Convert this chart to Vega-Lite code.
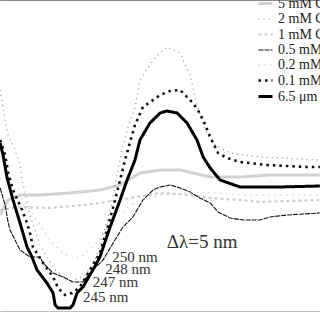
{
  "$schema": "https://vega.github.io/schema/vega-lite/v6.json",
  "width": 320,
  "height": 312,
  "autosize": "none",
  "padding": 0,
  "background": "white",
  "config": {"view": {"stroke": null}, "font": "Liberation Serif"},
  "datasets": {
    "spectra": [
      {"s": "5 mM C", "nm": 223.3, "v": 97}, {"s": "5 mM C", "nm": 226.0, "v": 112}, {"s": "5 mM C", "nm": 230.1, "v": 117}, {"s": "5 mM C", "nm": 236.9, "v": 117}, {"s": "5 mM C", "nm": 247.2, "v": 119}, {"s": "5 mM C", "nm": 257.4, "v": 122}, {"s": "5 mM C", "nm": 264.3, "v": 127}, {"s": "5 mM C", "nm": 271.1, "v": 139}, {"s": "5 mM C", "nm": 278.0, "v": 142}, {"s": "5 mM C", "nm": 284.8, "v": 142}, {"s": "5 mM C", "nm": 295.1, "v": 135}, {"s": "5 mM C", "nm": 305.3, "v": 135}, {"s": "5 mM C", "nm": 315.6, "v": 137}, {"s": "5 mM C", "nm": 332.6, "v": 137},

      {"s": "2 mM C", "nm": 223.3, "v": 222}, {"s": "2 mM C", "nm": 225.0, "v": 192}, {"s": "2 mM C", "nm": 226.0, "v": 177}, {"s": "2 mM C", "nm": 228.4, "v": 162}, {"s": "2 mM C", "nm": 230.1, "v": 147}, {"s": "2 mM C", "nm": 230.8, "v": 132}, {"s": "2 mM C", "nm": 233.5, "v": 97}, {"s": "2 mM C", "nm": 236.9, "v": 67}, {"s": "2 mM C", "nm": 242.1, "v": 42}, {"s": "2 mM C", "nm": 247.2, "v": 30}, {"s": "2 mM C", "nm": 252.3, "v": 37}, {"s": "2 mM C", "nm": 255.7, "v": 52}, {"s": "2 mM C", "nm": 258.5, "v": 77}, {"s": "2 mM C", "nm": 260.9, "v": 102}, {"s": "2 mM C", "nm": 263.6, "v": 142}, {"s": "2 mM C", "nm": 265.0, "v": 162}, {"s": "2 mM C", "nm": 267.0, "v": 185}, {"s": "2 mM C", "nm": 269.4, "v": 204}, {"s": "2 mM C", "nm": 271.1, "v": 232}, {"s": "2 mM C", "nm": 273.8, "v": 244}, {"s": "2 mM C", "nm": 276.2, "v": 254}, {"s": "2 mM C", "nm": 280.3, "v": 265}, {"s": "2 mM C", "nm": 284.8, "v": 259}, {"s": "2 mM C", "nm": 288.2, "v": 237}, {"s": "2 mM C", "nm": 290.6, "v": 207}, {"s": "2 mM C", "nm": 293.3, "v": 182}, {"s": "2 mM C", "nm": 296.8, "v": 167}, {"s": "2 mM C", "nm": 301.9, "v": 159}, {"s": "2 mM C", "nm": 312.1, "v": 155}, {"s": "2 mM C", "nm": 332.6, "v": 152},

      {"s": "1 mM C", "nm": 223.3, "v": 102}, {"s": "1 mM C", "nm": 230.1, "v": 105}, {"s": "1 mM C", "nm": 240.3, "v": 104}, {"s": "1 mM C", "nm": 251.6, "v": 107}, {"s": "1 mM C", "nm": 257.4, "v": 109}, {"s": "1 mM C", "nm": 267.7, "v": 114}, {"s": "1 mM C", "nm": 278.0, "v": 119}, {"s": "1 mM C", "nm": 288.2, "v": 117}, {"s": "1 mM C", "nm": 295.1, "v": 114}, {"s": "1 mM C", "nm": 305.3, "v": 112}, {"s": "1 mM C", "nm": 312.1, "v": 110}, {"s": "1 mM C", "nm": 332.6, "v": 112},

      {"s": "0.5 mM", "nm": 223.3, "v": 124}, {"s": "0.5 mM", "nm": 224.0, "v": 117}, {"s": "0.5 mM", "nm": 225.0, "v": 107}, {"s": "0.5 mM", "nm": 226.0, "v": 90}, {"s": "0.5 mM", "nm": 226.7, "v": 82}, {"s": "0.5 mM", "nm": 230.1, "v": 62}, {"s": "0.5 mM", "nm": 233.5, "v": 55}, {"s": "0.5 mM", "nm": 236.9, "v": 55}, {"s": "0.5 mM", "nm": 238.0, "v": 49}, {"s": "0.5 mM", "nm": 241.4, "v": 39}, {"s": "0.5 mM", "nm": 244.8, "v": 35}, {"s": "0.5 mM", "nm": 248.2, "v": 30}, {"s": "0.5 mM", "nm": 251.6, "v": 30}, {"s": "0.5 mM", "nm": 255.0, "v": 42}, {"s": "0.5 mM", "nm": 258.5, "v": 52}, {"s": "0.5 mM", "nm": 261.9, "v": 69}, {"s": "0.5 mM", "nm": 265.3, "v": 85}, {"s": "0.5 mM", "nm": 268.7, "v": 95}, {"s": "0.5 mM", "nm": 272.1, "v": 112}, {"s": "0.5 mM", "nm": 275.6, "v": 122}, {"s": "0.5 mM", "nm": 278.0, "v": 125}, {"s": "0.5 mM", "nm": 281.4, "v": 127}, {"s": "0.5 mM", "nm": 284.8, "v": 124}, {"s": "0.5 mM", "nm": 288.2, "v": 120}, {"s": "0.5 mM", "nm": 291.6, "v": 114}, {"s": "0.5 mM", "nm": 295.1, "v": 109}, {"s": "0.5 mM", "nm": 297.8, "v": 100}, {"s": "0.5 mM", "nm": 301.9, "v": 94}, {"s": "0.5 mM", "nm": 306.3, "v": 92}, {"s": "0.5 mM", "nm": 312.1, "v": 92}, {"s": "0.5 mM", "nm": 315.6, "v": 95}, {"s": "0.5 mM", "nm": 321.4, "v": 97}, {"s": "0.5 mM", "nm": 332.6, "v": 99},

      {"s": "0.2 mM", "nm": 223.3, "v": 134}, {"s": "0.2 mM", "nm": 228.4, "v": 122}, {"s": "0.2 mM", "nm": 233.5, "v": 102}, {"s": "0.2 mM", "nm": 240.3, "v": 72}, {"s": "0.2 mM", "nm": 245.5, "v": 57}, {"s": "0.2 mM", "nm": 250.6, "v": 54}, {"s": "0.2 mM", "nm": 255.7, "v": 67}, {"s": "0.2 mM", "nm": 260.9, "v": 87}, {"s": "0.2 mM", "nm": 267.7, "v": 107}, {"s": "0.2 mM", "nm": 278.0, "v": 117}, {"s": "0.2 mM", "nm": 291.6, "v": 120}, {"s": "0.2 mM", "nm": 305.3, "v": 117}, {"s": "0.2 mM", "nm": 332.6, "v": 117},

      {"s": "0.1 mM", "nm": 223.3, "v": 172}, {"s": "0.1 mM", "nm": 225.0, "v": 157}, {"s": "0.1 mM", "nm": 226.0, "v": 140}, {"s": "0.1 mM", "nm": 227.7, "v": 122}, {"s": "0.1 mM", "nm": 230.8, "v": 102}, {"s": "0.1 mM", "nm": 232.5, "v": 89}, {"s": "0.1 mM", "nm": 233.5, "v": 79}, {"s": "0.1 mM", "nm": 234.5, "v": 65}, {"s": "0.1 mM", "nm": 238.0, "v": 49}, {"s": "0.1 mM", "nm": 241.4, "v": 35}, {"s": "0.1 mM", "nm": 243.1, "v": 24}, {"s": "0.1 mM", "nm": 245.5, "v": 17}, {"s": "0.1 mM", "nm": 247.9, "v": 19}, {"s": "0.1 mM", "nm": 250.6, "v": 25}, {"s": "0.1 mM", "nm": 254.0, "v": 42}, {"s": "0.1 mM", "nm": 257.4, "v": 59}, {"s": "0.1 mM", "nm": 259.8, "v": 82}, {"s": "0.1 mM", "nm": 262.6, "v": 112}, {"s": "0.1 mM", "nm": 266.0, "v": 152}, {"s": "0.1 mM", "nm": 269.4, "v": 187}, {"s": "0.1 mM", "nm": 272.1, "v": 205}, {"s": "0.1 mM", "nm": 275.6, "v": 212}, {"s": "0.1 mM", "nm": 278.0, "v": 217}, {"s": "0.1 mM", "nm": 281.4, "v": 221}, {"s": "0.1 mM", "nm": 284.8, "v": 222}, {"s": "0.1 mM", "nm": 286.5, "v": 217}, {"s": "0.1 mM", "nm": 289.2, "v": 209}, {"s": "0.1 mM", "nm": 290.9, "v": 202}, {"s": "0.1 mM", "nm": 292.7, "v": 192}, {"s": "0.1 mM", "nm": 295.1, "v": 175}, {"s": "0.1 mM", "nm": 297.8, "v": 159}, {"s": "0.1 mM", "nm": 300.9, "v": 154}, {"s": "0.1 mM", "nm": 305.3, "v": 150}, {"s": "0.1 mM", "nm": 314.5, "v": 147}, {"s": "0.1 mM", "nm": 328.2, "v": 145}, {"s": "0.1 mM", "nm": 332.6, "v": 145},

      {"s": "6.5 μm", "nm": 223.3, "v": 169}, {"s": "6.5 μm", "nm": 224.3, "v": 157}, {"s": "6.5 μm", "nm": 225.0, "v": 145}, {"s": "6.5 μm", "nm": 225.7, "v": 134}, {"s": "6.5 μm", "nm": 227.7, "v": 112}, {"s": "6.5 μm", "nm": 230.1, "v": 89}, {"s": "6.5 μm", "nm": 232.5, "v": 65}, {"s": "6.5 μm", "nm": 234.2, "v": 55}, {"s": "6.5 μm", "nm": 235.9, "v": 42}, {"s": "6.5 μm", "nm": 239.3, "v": 29}, {"s": "6.5 μm", "nm": 241.4, "v": 19}, {"s": "6.5 μm", "nm": 242.1, "v": 7}, {"s": "6.5 μm", "nm": 243.1, "v": 4}, {"s": "6.5 μm", "nm": 247.2, "v": 4}, {"s": "6.5 μm", "nm": 248.2, "v": 7}, {"s": "6.5 μm", "nm": 249.6, "v": 19}, {"s": "6.5 μm", "nm": 251.6, "v": 25}, {"s": "6.5 μm", "nm": 255.0, "v": 42}, {"s": "6.5 μm", "nm": 257.4, "v": 55}, {"s": "6.5 μm", "nm": 260.9, "v": 85}, {"s": "6.5 μm", "nm": 264.3, "v": 112}, {"s": "6.5 μm", "nm": 266.7, "v": 132}, {"s": "6.5 μm", "nm": 269.4, "v": 152}, {"s": "6.5 μm", "nm": 271.1, "v": 172}, {"s": "6.5 μm", "nm": 274.5, "v": 189}, {"s": "6.5 μm", "nm": 278.0, "v": 199}, {"s": "6.5 μm", "nm": 280.3, "v": 201}, {"s": "6.5 μm", "nm": 283.8, "v": 199}, {"s": "6.5 μm", "nm": 287.2, "v": 189}, {"s": "6.5 μm", "nm": 290.6, "v": 172}, {"s": "6.5 μm", "nm": 292.7, "v": 155}, {"s": "6.5 μm", "nm": 295.1, "v": 144}, {"s": "6.5 μm", "nm": 298.5, "v": 132}, {"s": "6.5 μm", "nm": 305.3, "v": 125}, {"s": "6.5 μm", "nm": 319.0, "v": 125}, {"s": "6.5 μm", "nm": 332.6, "v": 126}
    ],
    "labels": [
      {"t": "250 nm", "nm": 261.6, "v": 55, "kind": "min"},
      {"t": "248 nm", "nm": 259.2, "v": 43, "kind": "min"},
      {"t": "247 nm", "nm": 255.0, "v": 30, "kind": "min"},
      {"t": "245 nm", "nm": 251.6, "v": 15, "kind": "min"},
      {"t": "Δλ=5 nm", "nm": 280.3, "v": 70, "kind": "delta"}
    ]
  },
  "layer": [
    {
      "data": {"name": "spectra"},
      "mark": {"type": "line", "strokeCap": "butt"},
      "encoding": {
        "x": {"field": "nm", "type": "quantitative", "scale": {"domain": [223.25, 332.65], "nice": false, "zero": false},
          "axis": {"orient": "bottom", "values": [240, 260, 280, 300, 320], "labels": false, "title": null, "grid": false, "domainColor": "black", "domainWidth": 1.5, "tickColor": "black", "tickSize": 5, "tickWidth": 1.2}},
        "y": {"field": "v", "type": "quantitative", "scale": {"domain": [0, 312], "nice": false}, "axis": null},
        "color": {"field": "s", "type": "nominal", "title": null,
          "scale": {"domain": ["5 mM C", "2 mM C", "1 mM C", "0.5 mM", "0.2 mM", "0.1 mM", "6.5 μm"],
                    "range": ["#d2d2d2", "#8a8a8a", "#cccccc", "#111111", "#c8c8c8", "#111111", "#000000"]},
          "legend": {"orient": "none", "legendX": 257, "legendY": -5, "padding": 0, "symbolType": "stroke", "symbolSize": 196, "rowPadding": 0, "labelFont": "Liberation Serif", "labelFontSize": 14, "labelColor": "#222222", "labelOffset": 4, "labelLimit": 200, "symbolOpacity": 1}},
        "strokeDash": {"field": "s", "type": "nominal", "title": null,
          "scale": {"domain": ["5 mM C", "2 mM C", "1 mM C", "0.5 mM", "0.2 mM", "0.1 mM", "6.5 μm"],
                    "range": [[1, 0], [1, 4], [3, 3], [5, 1], [1, 5], [2.5, 4], [1, 0]]}},
        "strokeWidth": {"field": "s", "type": "nominal", "title": null,
          "scale": {"type": "ordinal", "domain": ["5 mM C", "2 mM C", "1 mM C", "0.5 mM", "0.2 mM", "0.1 mM", "6.5 μm"],
                    "range": [3, 1.2, 2.2, 1.1, 1.5, 2.6, 3]}},
        "order": {"field": "nm", "type": "quantitative"}
      }
    },
    {
      "data": {"name": "labels"},
      "transform": [{"filter": "datum.kind == 'min'"}],
      "mark": {"type": "text", "align": "left", "baseline": "middle", "font": "Liberation Serif", "fontSize": 15, "color": "#333333"},
      "encoding": {
        "x": {"field": "nm", "type": "quantitative"},
        "y": {"field": "v", "type": "quantitative"},
        "text": {"field": "t"}
      }
    },
    {
      "data": {"name": "labels"},
      "transform": [{"filter": "datum.kind == 'delta'"}],
      "mark": {"type": "text", "align": "left", "baseline": "middle", "font": "Liberation Serif", "fontSize": 19, "color": "#333333"},
      "encoding": {
        "x": {"field": "nm", "type": "quantitative"},
        "y": {"field": "v", "type": "quantitative"},
        "text": {"field": "t"}
      }
    },
    {
      "data": {"values": [{"nm": 250}]},
      "mark": {"type": "point", "opacity": 0},
      "encoding": {
        "x": {"field": "nm", "type": "quantitative",
          "axis": {"orient": "bottom", "values": [230, 250, 270, 290, 310, 330], "labels": false, "title": null, "grid": false, "domain": false, "tickColor": "black", "tickSize": 3, "tickWidth": 1}}
      }
    }
  ],
  "resolve": {"axis": {"x": "independent"}}
}
